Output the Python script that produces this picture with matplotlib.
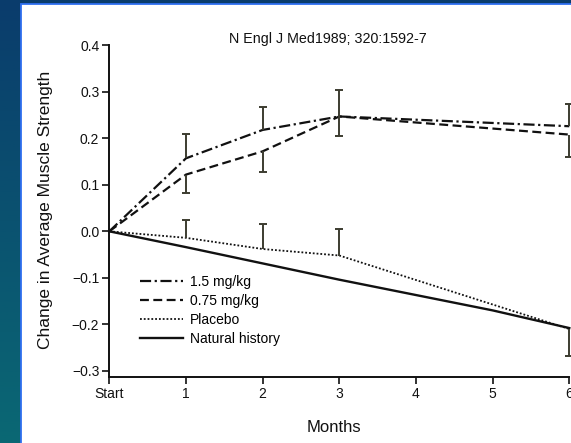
import numpy as np
import matplotlib.pyplot as plt
from matplotlib.lines import Line2D
from matplotlib.patches import Rectangle

plt.rcParams['font.family'] = ['Liberation Sans', 'DejaVu Sans']

month_ticks = [0, 1, 2, 3, 4, 5, 6]
month_labels = ['Start', '1', '2', '3', '4', '5', '6']

# 1.5 mg/kg (error bars point up)
high_x = [0, 1, 2, 3, 6]
high_y = [0.0, 0.157, 0.218, 0.247, 0.226]
high_bar_x = [1, 2, 3, 6]
high_bar_end = [0.210, 0.268, 0.304, 0.273]

# 0.75 mg/kg (error bars point down)
low_x = [0, 1, 2, 3, 6]
low_y = [0.0, 0.122, 0.172, 0.247, 0.208]
low_bar_x = [1, 2, 3, 6]
low_bar_end = [0.083, 0.128, 0.204, 0.160]

# placebo
placebo_x = [0, 1, 2, 3, 6]
placebo_y = [0.0, -0.014, -0.038, -0.052, -0.210]
placebo_bar_x = [1, 2, 3, 6]
placebo_bar_end = [0.024, 0.015, 0.006, -0.268]

# natural history
natural_x = [0, 1, 2, 3, 4, 5, 6]
natural_y = [0.0, -0.034, -0.069, -0.104, -0.137, -0.170, -0.208]

W, H = 571, 443
fig = plt.figure(figsize=(W / 100, H / 100), dpi=100)

# blue slide background, darker at the top
bg = fig.add_axes([0, 0, 1, 1], zorder=-10)
top = np.array([0x0a, 0x3c, 0x6c]) / 255
bot = np.array([0x0a, 0x68, 0x74]) / 255
t = np.linspace(0, 1, 256)[:, None]
grad = top * (1 - t) + bot * t
bg.imshow(grad[:, None, :], aspect='auto', extent=[0, 1, 0, 1])
bg.set_xlim(0, 1)
bg.set_ylim(0, 1)
bg.axis('off')
bg.add_patch(Rectangle((20.7 / W, -0.05), 1, 1.05 - 4 / H, facecolor='white',
                       edgecolor='#2f6ff0', linewidth=1.3))

ax = fig.add_axes([109.3 / W, 66.3 / H, 460 / W, 331.4 / H])
ax.set_facecolor('none')

ink = '#111111'
bar_col = '#3c3c30'

ax.plot(high_x, high_y, color=ink, lw=1.6, dashes=(5, 1.6, 1, 1.6), clip_on=False)
ax.plot(low_x, low_y, color=ink, lw=1.6, dashes=(4, 2), clip_on=False)
ax.plot(placebo_x, placebo_y, color=ink, lw=1.3, dashes=(1, 1.1), clip_on=False)
ax.plot(natural_x, natural_y, color=ink, lw=1.7, clip_on=False)


def bars(xs, ys, bx, ends):
    start = [ys[xs.index(m)] for m in bx]
    ax.vlines(bx, start, ends, color=bar_col, lw=1.4, clip_on=False)
    ax.plot(bx, ends, ls='none', marker='_', ms=6, mew=1.4, color=bar_col, clip_on=False)


bars(high_x, high_y, high_bar_x, high_bar_end)
bars(low_x, low_y, low_bar_x, low_bar_end)
bars(placebo_x, placebo_y, placebo_bar_x, placebo_bar_end)

ax.set_xlim(0, 6)
ax.set_ylim(-0.3126, 0.4)
ax.set_xticks(month_ticks)
ax.set_xticklabels(month_labels)
ax.set_yticks(np.arange(-3, 5) / 10)
for s in ['top', 'right']:
    ax.spines[s].set_visible(False)
for s in ['left', 'bottom']:
    ax.spines[s].set_linewidth(1.4)
    ax.spines[s].set_color(ink)
ax.tick_params(direction='out', length=4.7, width=1.2, labelsize=10,
               colors=ink, pad=2.5)

fig.text(46 / W, 1 - 210 / H, 'Change in Average Muscle Strength', rotation=90,
         ha='center', va='center', fontsize=12.5, color=ink)
fig.text(333.5 / W, 1 - 427 / H, 'Months', ha='center', va='center',
         fontsize=12, color=ink)
fig.text(327.7 / W, 1 - 39 / H, 'N Engl J Med1989; 320:1592-7', ha='center',
         va='center', fontsize=10.3, color=ink)

handles = [
    Line2D([], [], color=ink, lw=1.6, dashes=(5, 1.6, 1, 1.6)),
    Line2D([], [], color=ink, lw=1.6, dashes=(4, 2)),
    Line2D([], [], color=ink, lw=1.3, dashes=(1, 1.1)),
    Line2D([], [], color=ink, lw=1.7),
]
ax.legend(handles, ['1.5 mg/kg', '0.75 mg/kg', 'Placebo', 'Natural history'],
          loc='upper left', bbox_to_anchor=(140 / W, 1 - 275 / H),
          bbox_transform=fig.transFigure, frameon=False, fontsize=10,
          handlelength=3.1, handletextpad=0.5, labelspacing=0.35,
          borderpad=0, borderaxespad=0)

fig.savefig('out.png', dpi=100)
